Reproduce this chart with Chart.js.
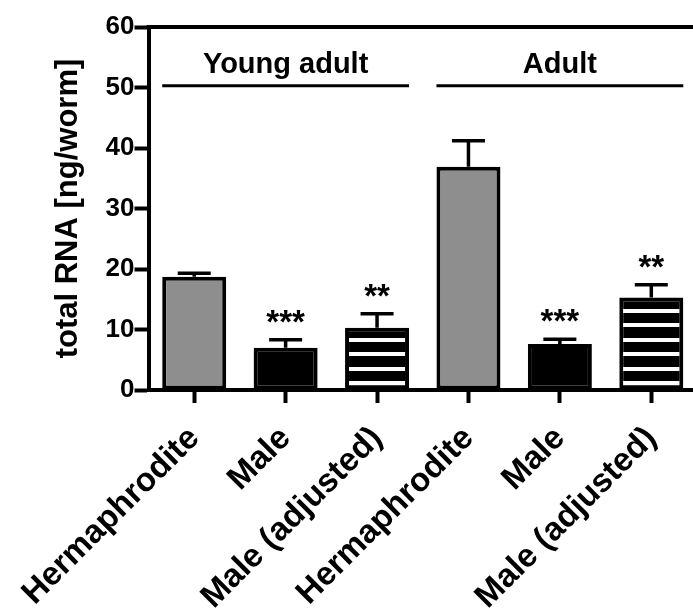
<!DOCTYPE html>
<html>
<head>
<meta charset="utf-8">
<script src="https://cdn.jsdelivr.net/npm/chart.js@4"></script>
<style>
html, body { margin: 0; padding: 0; background: #fff; overflow: hidden; }
</style>
</head>
<body>
<canvas id="chart" width="698" height="612"></canvas>
<script>
// data
var categories = ['Hermaphrodite', 'Male', 'Male (adjusted)', 'Hermaphrodite', 'Male', 'Male (adjusted)'];
var rnaMeans = [18.7, 7.0, 10.3, 36.9, 7.6, 15.3];
var rnaErrors = [0.6, 1.3, 2.3, 4.3, 0.8, 2.1];
var stars = ['', '***', '**', '', '***', '**'];
var groupNames = ['Young adult', 'Adult'];
var groupFirst = [0, 3];
var groupLast = [2, 5];
var groupLineValue = 50.3;
var yTicks = [0, 10, 20, 30, 40, 50, 60];

var FONT = '"Liberation Sans", Arial, Helvetica, sans-serif';
Chart.defaults.font.family = FONT;
Chart.defaults.font.weight = 'bold';
Chart.defaults.color = '#000';

var canvas = document.getElementById('chart');
var context = canvas.getContext('2d');

// horizontal stripes for the "adjusted" bars (white lines on black)
function stripes() {
    var tile = document.createElement('canvas');
    tile.width = 8;
    tile.height = 29;
    var t = tile.getContext('2d');
    t.fillStyle = '#000';
    t.fillRect(0, 0, 8, 29);
    t.fillStyle = '#fff';
    t.fillRect(0, 4, 8, 4);
    t.fillRect(0, 19, 8, 4);
    return context.createPattern(tile, 'repeat');
}
var striped = stripes();
var fills = ['#8e8e8e', '#000', striped, '#8e8e8e', '#000', striped];

var extras = {
    id: 'extras',
    afterDatasetsDraw: function(chart) {
        var ctx = chart.ctx;
        var x = chart.scales.x, y = chart.scales.y, area = chart.chartArea;
        var meta = chart.getDatasetMeta(0);
        ctx.save();
        ctx.strokeStyle = '#000';
        ctx.fillStyle = '#000';

        // top frame line
        ctx.lineWidth = 4;
        ctx.beginPath();
        ctx.moveTo(area.left - 2, area.top);
        ctx.lineTo(chart.width, area.top);
        ctx.stroke();

        // error bars and significance stars
        ctx.textAlign = 'center';
        ctx.textBaseline = 'middle';
        ctx.font = 'bold 33px ' + FONT;
        for (var i = 0; i < rnaMeans.length; i++) {
            var cx = x.getPixelForValue(i);
            var base = y.getPixelForValue(rnaMeans[i]);
            var top = y.getPixelForValue(rnaMeans[i] + rnaErrors[i]);
            ctx.lineWidth = 3.5;
            ctx.beginPath();
            ctx.moveTo(cx, base);
            ctx.lineTo(cx, top);
            ctx.moveTo(cx - 16.5, top);
            ctx.lineTo(cx + 16.5, top);
            ctx.stroke();
            if (stars[i]) ctx.fillText(stars[i], cx, top - 16);
        }

        // group labels
        ctx.font = 'bold 29px ' + FONT;
        ctx.textBaseline = 'alphabetic';
        ctx.lineWidth = 3;
        var ly = y.getPixelForValue(groupLineValue);
        for (var g = 0; g < groupNames.length; g++) {
            var a = meta.data[groupFirst[g]], b = meta.data[groupLast[g]];
            var left = a.x - a.width / 2, right = b.x + b.width / 2;
            ctx.beginPath();
            ctx.moveTo(left, ly);
            ctx.lineTo(right, ly);
            ctx.stroke();
            ctx.fillText(groupNames[g], (left + right) / 2, ly - 13);
        }
        ctx.restore();
    }
};

var chart = new Chart(context, {
    type: 'bar',
    data: {
        labels: categories,
        datasets: [{
            data: rnaMeans,
            backgroundColor: fills,
            borderColor: '#000',
            borderWidth: 4,
            borderSkipped: false,
            barPercentage: 0.7,
            categoryPercentage: 1
        }]
    },
    options: {
        responsive: false,
        animation: false,
        layout: { padding: { left: 46, top: 27, right: 1, bottom: 0 } },
        plugins: { legend: { display: false }, tooltip: { enabled: false } },
        scales: {
            x: {
                offset: true,
                border: { display: true, width: 4, color: '#000' },
                grid: { offset: false, drawOnChartArea: false, tickLength: 13, tickWidth: 4, tickColor: '#000' },
                ticks: { autoSkip: false, minRotation: 45, maxRotation: 45, padding: 16,
                         font: { size: 33, weight: 'bold' }, color: '#000' },
                afterFit: function(s) { s.height = 222; }
            },
            y: {
                min: yTicks[0],
                max: yTicks[yTicks.length - 1],
                border: { display: true, width: 4, color: '#000' },
                grid: { drawOnChartArea: false, tickLength: 14, tickWidth: 4, tickColor: '#000' },
                ticks: { stepSize: yTicks[1] - yTicks[0], padding: 0,
                         font: { size: 26, weight: 'bold' }, color: '#000' },
                title: { display: true, text: 'total RNA [ng/worm]', color: '#000',
                         font: { size: 31, weight: 'bold' }, padding: { top: 2, bottom: 0 } },
                afterFit: function(s) { s.width = 101; }
            }
        }
    },
    plugins: [extras]
});
</script>
</body>
</html>
